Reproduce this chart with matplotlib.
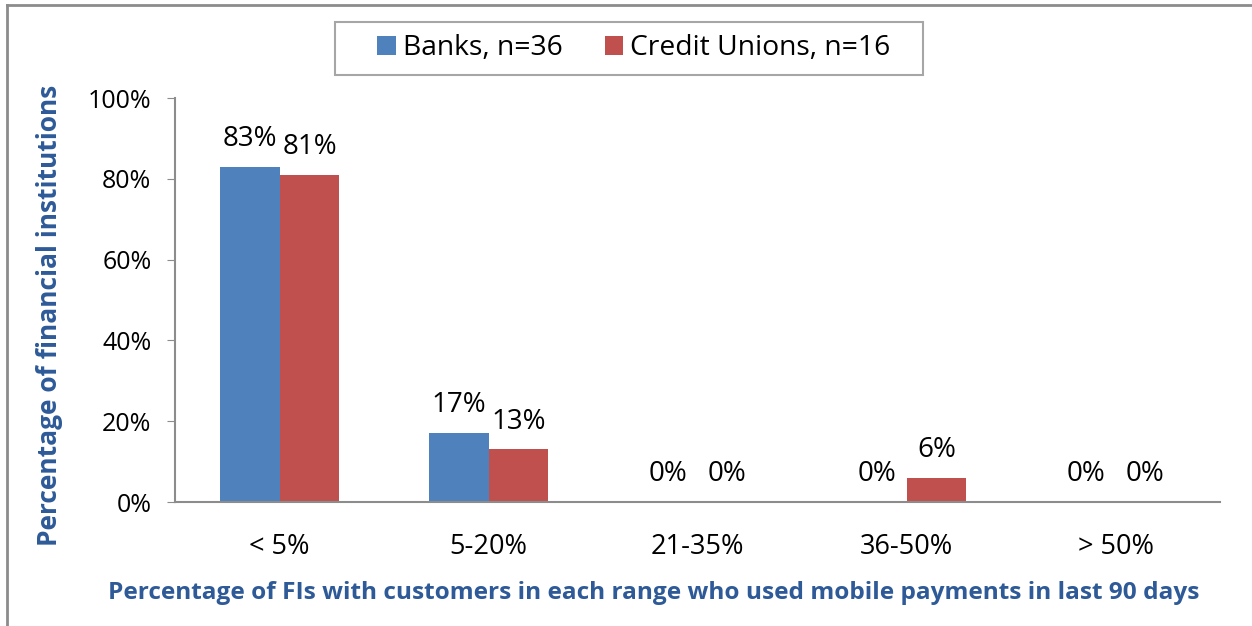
import numpy as np
import matplotlib.pyplot as plt
from matplotlib.lines import Line2D
from matplotlib.patches import Rectangle

# survey results: share of FIs per usage range
categories = ["< 5%", "5-20%", "21-35%", "36-50%", "> 50%"]
banks = [0.83, 0.17, 0.0, 0.0, 0.0]
credit_unions = [0.81, 0.13, 0.0, 0.06, 0.0]
series_names = ["Banks, n=36", "Credit Unions, n=16"]
yticks = [0, 0.2, 0.4, 0.6, 0.8, 1.0]

BLUE = "#4F81BD"
RED = "#C0504D"
TITLE = "#2E5A98"
GRID = "#8C8C8C"

plt.rcParams["font.family"] = ["Open Sans", "DejaVu Sans"]

W, H = 1252, 626
fig = plt.figure(figsize=(W / 100, H / 100), dpi=100)
ax = fig.add_axes([175 / W, 1 - 502 / H, 1045 / W, 404 / H])

x = np.arange(len(categories))
w = 0.287
b1 = ax.bar(x - w / 2, banks, w, color=BLUE, label=series_names[0])
b2 = ax.bar(x + w / 2, credit_unions, w, color=RED, label=series_names[1])

for bars, vals in ((b1, banks), (b2, credit_unions)):
    for rect, v in zip(bars, vals):
        ax.annotate(f"{v:.0%}", (rect.get_x() + rect.get_width() / 2, v),
                    xytext=(0, 10), textcoords="offset points",
                    ha="center", va="bottom", fontsize=20)

ax.set_xlim(-0.5, len(categories) - 0.5)
ax.set_ylim(0, 1)
ax.set_yticks(yticks)
ax.set_yticklabels([f"{t:.0%}" for t in yticks], fontsize=18)
ax.set_xticks(x)
ax.set_xticklabels(categories, fontsize=19.5)
ax.tick_params(axis="x", length=0, pad=22)
ax.tick_params(axis="y", length=6, color=GRID, pad=11)

for s in ("top", "right"):
    ax.spines[s].set_visible(False)
for s in ("left", "bottom"):
    ax.spines[s].set_color(GRID)
    ax.spines[s].set_linewidth(1.5)

ax.set_xlabel("Percentage of FIs with customers in each range who used mobile payments in last 90 days",
              fontsize=17.6, fontweight="bold", color=TITLE, va="center")
ax.xaxis.set_label_coords(0.458, -0.225)
ax.set_ylabel("Percentage of financial institutions", fontsize=19,
              fontweight="bold", color=TITLE, va="center")
ax.yaxis.set_label_coords(-0.12, 0.463)

# legend: box drawn separately so it can be wider than the entries
fig.add_artist(Rectangle((335 / W, 1 - 75 / H), 588 / W, 53 / H, transform=fig.transFigure,
                         fill=False, edgecolor="#A6A6A6", lw=1.5))
fig.legend(loc="center", bbox_to_anchor=(634 / W, 1 - 48 / H), ncol=2,
           fontsize=20.3, frameon=False, handlelength=0.65, handleheight=0.65,
           handletextpad=0.25, columnspacing=1.5, borderpad=0.2)

# chart frame, left and top edges
fig.add_artist(Line2D([7 / W, 7 / W], [0, 1 - 5 / H], transform=fig.transFigure,
                      color="#8C8C8C", lw=2))
fig.add_artist(Line2D([7 / W, 1], [1 - 5 / H, 1 - 5 / H], transform=fig.transFigure,
                      color="#8C8C8C", lw=2))

fig.savefig("out.png", dpi=100)
